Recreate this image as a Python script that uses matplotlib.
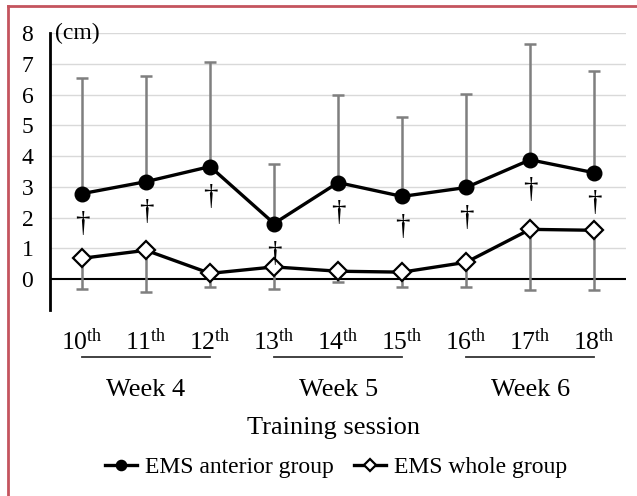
import matplotlib
matplotlib.use("Agg")
import matplotlib.pyplot as plt
from matplotlib.lines import Line2D
import numpy as np

plt.rcParams['font.family'] = ['Liberation Serif', 'DejaVu Serif']
plt.rcParams['mathtext.fontset'] = 'custom'
plt.rcParams['mathtext.rm'] = 'Liberation Serif'
plt.rcParams['mathtext.it'] = 'Liberation Serif:italic'

sessions = ["10", "11", "12", "13", "14", "15", "16", "17", "18"]
weeks = ["Week 4", "Week 5", "Week 6"]

anterior_mean = [2.78, 3.17, 3.66, 1.81, 3.14, 2.69, 2.98, 3.88, 3.46]
anterior_sd = [3.76, 3.43, 3.40, 1.94, 2.85, 2.58, 3.04, 3.76, 3.30]
whole_mean = [0.68, 0.94, 0.19, 0.40, 0.26, 0.23, 0.55, 1.62, 1.59]
whole_sd = [1.00, 1.36, 0.45, 0.72, 0.36, 0.49, 0.81, 1.97, 1.94]
significant = [True] * 9

fig = plt.figure(figsize=(6.37, 4.96), dpi=100)
ax = fig.add_axes([0.0785, 0.375, 0.9045, 0.5585])

x = np.arange(len(sessions))
grey = '#7f7f7f'

# error bars: upward for the anterior group, downward for the whole group
ax.errorbar(x, anterior_mean, yerr=[np.zeros(len(x)), anterior_sd], fmt='none',
            ecolor=grey, elinewidth=1.8, capsize=4, capthick=1.8, zorder=2)
ax.errorbar(x, whole_mean, yerr=[whole_sd, np.zeros(len(x))], fmt='none',
            ecolor=grey, elinewidth=1.8, capsize=4, capthick=1.8, zorder=2)

ax.plot(x, anterior_mean, color='black', lw=2.4, marker='o', markersize=10.5,
        markerfacecolor='black', zorder=4, label='EMS anterior group')
ax.plot(x, whole_mean, color='black', lw=2.4, marker='D', markersize=9,
        markerfacecolor='white', markeredgewidth=1.6, zorder=4,
        label='EMS whole group')

# significance marks under the anterior group
for xi, yi, s in zip(x, anterior_mean, significant):
    if s:
        ax.annotate('\u2020', (xi, yi), xytext=(0, -22), textcoords='offset points',
                    ha='center', va='center', fontsize=21, zorder=5)

ax.set_xlim(-0.5, len(sessions) - 0.5)
ax.set_ylim(-1, 8)
ax.set_yticks(range(0, 9))
ax.set_yticklabels([str(v) for v in range(0, 9)], fontsize=17)
ax.tick_params(axis='y', length=0, pad=12)
ax.set_xticks(x)
ax.set_xticklabels([r'$\mathrm{%s}^{\mathrm{th}}$' % s for s in sessions], fontsize=18.5)
ax.tick_params(axis='x', length=0, pad=13)

for yv in range(1, 9):
    ax.axhline(yv, color='#d9d9d9', lw=1, zorder=0)
ax.axhline(0, color='black', lw=1.5, zorder=1)

for side in ['top', 'right', 'bottom']:
    ax.spines[side].set_visible(False)
ax.spines['left'].set_linewidth(2)

ax.text(-0.42, 8, '(cm)', ha='left', va='center', fontsize=17)

# week brackets below the session labels
trans = ax.get_xaxis_transform()
for i, w in enumerate(weeks):
    x0, x1 = 3 * i, 3 * i + 2
    ax.add_line(Line2D([x0, x1], [-0.17, -0.17], transform=trans, color='#333333',
                       lw=1.3, clip_on=False))
    ax.text((x0 + x1) / 2, -0.29, w, transform=trans, ha='center', va='center',
            fontsize=19)

ax.text(0.492, -0.425, 'Training session', transform=ax.transAxes, ha='center',
        va='center', fontsize=19)

fig.legend(loc='center', bbox_to_anchor=(0.528, 1 - 467 / 496), ncol=2, frameon=False,
           fontsize=17, handlelength=1.35, columnspacing=0.85, handletextpad=0.35,
           markerscale=0.7)

# figure border on the left and top edges
border = '#c4545e'
fig.add_artist(Line2D([8 / 637, 8 / 637], [0, 1 - 6 / 496], transform=fig.transFigure,
                      color=border, lw=2))
fig.add_artist(Line2D([8 / 637, 1], [1 - 6 / 496, 1 - 6 / 496], transform=fig.transFigure,
                      color=border, lw=2))

fig.savefig('out.png', dpi=100)
